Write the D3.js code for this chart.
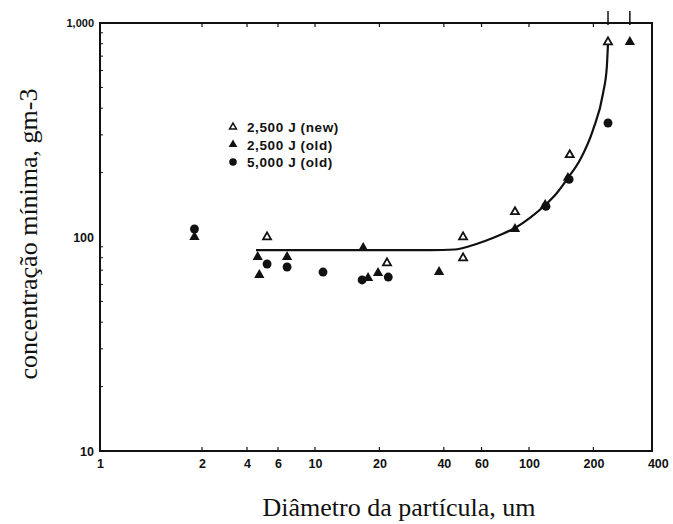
<!DOCTYPE html>
<html>
<head>
<meta charset="utf-8">
<script src="https://cdn.jsdelivr.net/npm/d3@7"></script>
<style>
  html, body { margin: 0; padding: 0; background: #fff; }
  svg { display: block; }
</style>
</head>
<body>
<svg id="chart" width="673" height="524"></svg>
<script>
// Particle diameter (µm) tick values and labels on the x axis
const xTicks = [1, 2, 4, 6, 10, 20, 40, 60, 100, 200, 400];
const xTickLabels = ["1", "2", "4", "6", "10", "20", "40", "60", "100", "200", "400"];
// Minimum concentration (g m-3) ticks on the y axis
const yTicks = [10, 100, 1000];
const yTickLabels = ["10", "100", "1,000"];

// 2,500 J (new) — open triangles
const newX = [5.2, 21.7, 49.2, 49.2, 86, 155, 234];
const newY = [100, 75.6, 100, 79.8, 131, 242, 815];
// 2,500 J (old) — filled triangles
const oldX = [1.9, 4.6, 4.7, 6.8, 16.8, 17.7, 19.7, 38, 86, 119, 152, 296];
const oldY = [100, 80.6, 66.4, 80.6, 88.8, 64.3, 67.9, 68.6, 109, 141, 189, 815];
// 5,000 J (old) — filled circles
const j5000X = [1.9, 5.2, 6.8, 10.9, 16.6, 22, 120, 154, 234];
const j5000Y = [109, 74.8, 72.4, 68.6, 63.0, 65.0, 139, 186, 341];

// Hand-fitted trend curve
const fitX = [4.5, 34.5, 45.1, 53.0, 62.3, 73.2, 86.1, 101, 119, 135, 152, 173, 199, 222, 231, 234];
const fitY = [86.9, 86.9, 87.4, 90.8, 95.8, 102.2, 110.2, 122.7, 141, 160.6, 188.7, 229, 316, 471, 623, 806];

const legendLabels = ["2,500 J (new)", "2,500 J (old)", "5,000 J (old)"];

const svg = d3.select("#chart");
const W = 673, H = 524;
const m = { left: 100, right: 21, top: 23, bottom: 73 };
const plotL = m.left, plotR = W - m.right, plotT = m.top, plotB = H - m.bottom;
const decade = 214;

// The printed x axis has its 2/4/6 labels spread out; the scale is piecewise
// logarithmic so points sit beside those labels while 10–400 stay true log.
const x = d3.scaleLog()
  .domain([1, 2, 4, 6, 10, 400])
  .range([plotL, plotL + 102, plotL + 147, plotL + 178, plotL + 215,
          plotL + 215 + decade * Math.log10(40)]);
const y = d3.scaleLog().domain([10, 1000]).range([plotB, plotT]);

svg.append("rect").attr("width", W).attr("height", H).attr("fill", "#fff");

const ink = "#111";
const g = svg.append("g");

// frame
g.append("rect")
  .attr("x", plotL).attr("y", plotT)
  .attr("width", plotR - plotL).attr("height", plotB - plotT)
  .attr("fill", "none").attr("stroke", ink).attr("stroke-width", 2);

// bottom axis: labels + inward ticks
const xAxis = d3.axisBottom(x).tickValues(xTicks)
  .tickFormat((d, i) => xTickLabels[i]).tickSize(0).tickPadding(8);
const xg = g.append("g").attr("transform", `translate(0,${plotB})`).call(xAxis);
xg.select(".domain").remove();
xg.selectAll("text")
  .attr("font-family", "Liberation Sans, Arial, sans-serif")
  .attr("font-weight", "bold").attr("font-size", 12.5).attr("fill", ink);

const tickLen = 4;
g.append("g").selectAll("line").data(xTicks.filter(d => d > 1 && d < 400)).join("line")
  .attr("x1", d => x(d)).attr("x2", d => x(d))
  .attr("y1", plotB).attr("y2", plotB - tickLen)
  .attr("stroke", ink).attr("stroke-width", 1.2);
g.append("g").selectAll("line").data(xTicks.filter(d => d > 1 && d < 400)).join("line")
  .attr("x1", d => x(d)).attr("x2", d => x(d))
  .attr("y1", plotT).attr("y2", plotT + tickLen)
  .attr("stroke", ink).attr("stroke-width", 1.2);

// left axis: labels + minor inward ticks
const yAxis = d3.axisLeft(y).tickValues(yTicks)
  .tickFormat((d, i) => yTickLabels[i]).tickSize(0).tickPadding(6);
const yg = g.append("g").attr("transform", `translate(${plotL},0)`).call(yAxis);
yg.select(".domain").remove();
yg.selectAll("text")
  .attr("font-family", "Liberation Sans, Arial, sans-serif")
  .attr("font-weight", "bold").attr("font-size", (d) => d === 1000 ? 11 : 12.5)
  .attr("fill", ink);

const yMinor = [];
[10, 100].forEach(b => { for (let k = 2; k <= 9; k++) yMinor.push(b * k); });
g.append("g").selectAll("line").data(yMinor).join("line")
  .attr("x1", plotL).attr("x2", plotL + 3)
  .attr("y1", d => y(d)).attr("y2", d => y(d))
  .attr("stroke", ink).attr("stroke-width", 1);

// trend curve
const line = d3.line().x((d, i) => x(fitX[i])).y((d, i) => y(fitY[i]))
  .curve(d3.curveMonotoneX);
g.append("path").datum(fitX).attr("d", line)
  .attr("fill", "none").attr("stroke", ink).attr("stroke-width", 2.2);

// marker shapes
const triBig = d3.symbol().type(d3.symbolTriangle).size(46);
const triSmall = d3.symbol().type(d3.symbolTriangle).size(28);
const circ = d3.symbol().type(d3.symbolCircle).size(62);

// markers near the top edge carry a short mark above the frame
const topPts = oldX.map((v, i) => [v, oldY[i]]).concat(newX.map((v, i) => [v, newY[i]]))
  .filter(p => p[1] > 700);
g.append("g").selectAll("line").data(topPts).join("line")
  .attr("x1", d => x(d[0])).attr("x2", d => x(d[0]))
  .attr("y1", plotT - 12).attr("y2", plotT + 2)
  .attr("stroke", ink).attr("stroke-width", 1.5);

g.append("g").selectAll("path").data(j5000X).join("path")
  .attr("d", circ)
  .attr("transform", (d, i) => `translate(${x(d)},${y(j5000Y[i])})`)
  .attr("fill", ink);

g.append("g").selectAll("path").data(oldX).join("path")
  .attr("d", triBig)
  .attr("transform", (d, i) => `translate(${x(d)},${y(oldY[i])})`)
  .attr("fill", ink);

g.append("g").selectAll("path").data(newX).join("path")
  .attr("d", triSmall)
  .attr("transform", (d, i) => `translate(${x(d)},${y(newY[i])})`)
  .attr("fill", "#fff").attr("stroke", ink).attr("stroke-width", 1.8);

// legend
const lg = g.append("g").attr("transform", "translate(233,127)");
const legendShapes = [
  { p: triSmall, fill: "#fff", stroke: ink },
  { p: triBig, fill: ink, stroke: "none" },
  { p: circ, fill: ink, stroke: "none" }
];
legendLabels.forEach((lab, i) => {
  const row = lg.append("g").attr("transform", `translate(0,${i * 17.5})`);
  row.append("path").attr("d", legendShapes[i].p())
    .attr("fill", legendShapes[i].fill).attr("stroke", legendShapes[i].stroke)
    .attr("stroke-width", 1.8).attr("transform", "scale(0.85)");
  row.append("text").attr("x", 14).attr("y", 5)
    .attr("font-family", "Liberation Sans, Arial, sans-serif")
    .attr("font-weight", "bold").attr("font-size", 13.5)
    .attr("letter-spacing", 0.6).attr("fill", ink)
    .text(lab);
});

// axis titles
svg.append("text")
  .attr("x", 399).attr("y", 516)
  .attr("text-anchor", "middle")
  .attr("font-family", "Liberation Serif, Times New Roman, serif")
  .attr("font-size", 26).attr("fill", ink)
  .text("Diâmetro da partícula, um");

svg.append("text")
  .attr("transform", "translate(37,234) rotate(-90)")
  .attr("text-anchor", "middle")
  .attr("font-family", "Liberation Serif, Times New Roman, serif")
  .attr("font-size", 26).attr("fill", ink)
  .text("concentração mínima, gm-3");
</script>
</body>
</html>
